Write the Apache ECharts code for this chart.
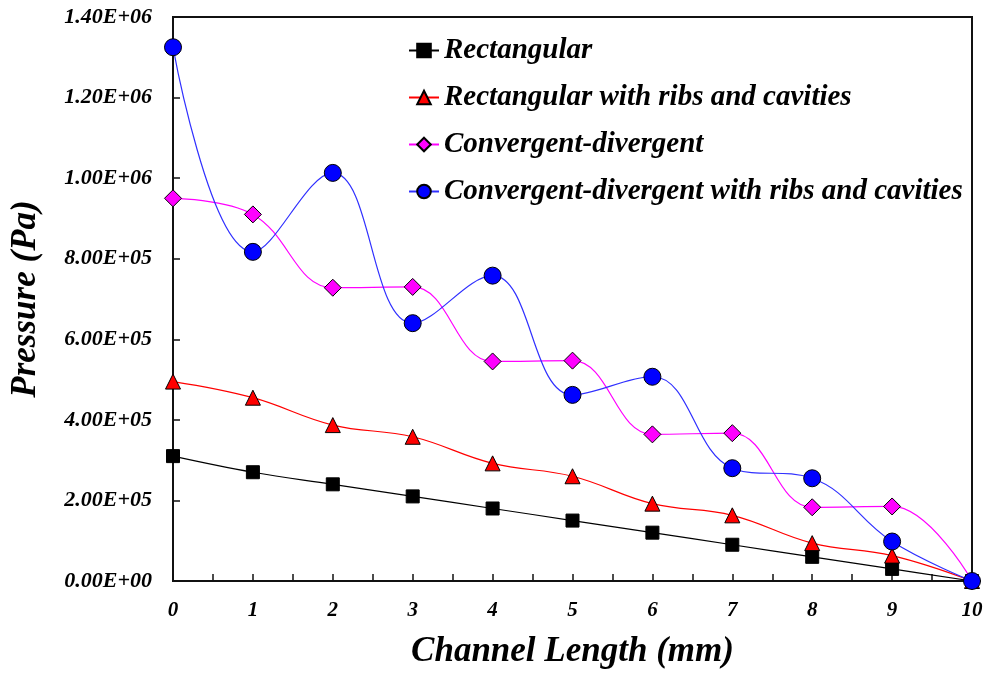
<!DOCTYPE html>
<html>
<head>
<meta charset="utf-8">
<script src="https://cdn.jsdelivr.net/npm/echarts@6/dist/echarts.min.js"></script>
<style>
  html, body { margin: 0; padding: 0; background: #fff; }
  #chart { width: 988px; height: 674px; }
</style>
</head>
<body>
<div id="chart"></div>
<script>
// Channel positions along the length (mm)
const channelLength = [0, 1, 2, 3, 4, 5, 6, 7, 8, 9, 10];

// Pressure (Pa) at each position for the four channel designs
const rectangular = [3.1e5, 2.7e5, 2.4e5, 2.1e5, 1.8e5, 1.5e5, 1.2e5, 9.0e4, 6.0e4, 3.0e4, 0];
const rectangularRibs = [4.95e5, 4.55e5, 3.87e5, 3.58e5, 2.92e5, 2.6e5, 1.92e5, 1.63e5, 9.4e4, 6.3e4, 0];
const convergentDivergent = [9.5e5, 9.1e5, 7.28e5, 7.3e5, 5.45e5, 5.47e5, 3.64e5, 3.67e5, 1.83e5, 1.85e5, 0];
const convergentDivergentRibs = [1.325e6, 8.17e5, 1.013e6, 6.4e5, 7.58e5, 4.62e5, 5.07e5, 2.8e5, 2.55e5, 9.8e4, 0];

const seriesNames = [
  'Rectangular',
  'Rectangular with ribs and cavities',
  'Convergent-divergent',
  'Convergent-divergent with ribs and cavities'
];

const FONT = "'Liberation Serif', 'Times New Roman', serif";

// Scientific notation with a two-digit exponent, e.g. 1.40E+06
function sci(v) {
  if (v === 0) return '0.00E+00';
  const exp = Math.floor(Math.log10(Math.abs(v)));
  const mant = v / Math.pow(10, exp);
  const sign = exp < 0 ? '-' : '+';
  return mant.toFixed(2) + 'E' + sign + String(Math.abs(exp)).padStart(2, '0');
}

function pairs(values) {
  return channelLength.map((x, i) => [x, values[i]]);
}

function makeSeries(name, values, symbol, size, color, lineColor) {
  return {
    name: name,
    type: 'line',
    data: pairs(values),
    smooth: 0.4,
    symbol: symbol,
    symbolSize: size,
    showAllSymbol: true,
    lineStyle: { color: lineColor, width: 1.2 },
    itemStyle: { color: color, borderColor: '#000', borderWidth: 1 },
    emphasis: { disabled: true },
    z: 3
  };
}

const chart = echarts.init(document.getElementById('chart'), null, { renderer: 'canvas' });

chart.setOption({
  animation: false,
  backgroundColor: '#fff',
  grid: {
    left: 172, right: 16, top: 17, bottom: 91,
    show: true, borderColor: '#111', borderWidth: 2, backgroundColor: 'transparent'
  },
  legend: {
    orient: 'vertical',
    left: 403,
    top: 31,
    itemGap: 18,
    itemWidth: 30,
    itemHeight: 17,
    data: seriesNames,
    textStyle: {
      fontFamily: FONT, fontStyle: 'italic', fontWeight: 'bold',
      fontSize: 29, color: '#000'
    }
  },
  xAxis: {
    type: 'value',
    min: 0, max: 10, interval: 1,
    name: 'Channel Length (mm)',
    nameLocation: 'middle',
    nameGap: 53,
    nameTextStyle: {
      fontFamily: FONT, fontStyle: 'italic', fontWeight: 'bold', fontSize: 35, color: '#000'
    },
    axisLine: { show: true, onZero: false, lineStyle: { color: '#111', width: 2 } },
    axisTick: { show: true, inside: true, length: 7, lineStyle: { color: '#111', width: 1.5 } },
    minorTick: { show: true, splitNumber: 2, length: 7, lineStyle: { color: '#111', width: 1.5 } },
    splitLine: { show: false },
    axisLabel: {
      margin: 19,
      fontFamily: FONT, fontStyle: 'italic', fontWeight: 'bold', fontSize: 21, color: '#000'
    }
  },
  yAxis: {
    type: 'value',
    min: 0, max: 1.4e6, interval: 2e5,
    name: 'Pressure (Pa)',
    nameLocation: 'middle',
    nameGap: 130,
    nameTextStyle: {
      fontFamily: FONT, fontStyle: 'italic', fontWeight: 'bold', fontSize: 35, color: '#000'
    },
    axisLine: { show: true, lineStyle: { color: '#111', width: 2 } },
    axisTick: { show: true, inside: true, length: 7, lineStyle: { color: '#111', width: 1.5 } },
    splitLine: { show: false },
    axisLabel: {
      margin: 21,
      formatter: sci,
      fontFamily: FONT, fontStyle: 'italic', fontWeight: 'bold', fontSize: 22, color: '#000'
    }
  },
  series: [
    makeSeries(seriesNames[0], rectangular, 'rect', 13, '#000000', '#000000'),
    makeSeries(seriesNames[1], rectangularRibs, 'triangle', 15, '#ff0000', '#ff0000'),
    makeSeries(seriesNames[2], convergentDivergent, 'diamond', 17, '#ff00ff', '#ff00ff'),
    makeSeries(seriesNames[3], convergentDivergentRibs, 'circle', 17, '#0000ff', '#3030ff')
  ]
});
</script>
</body>
</html>
